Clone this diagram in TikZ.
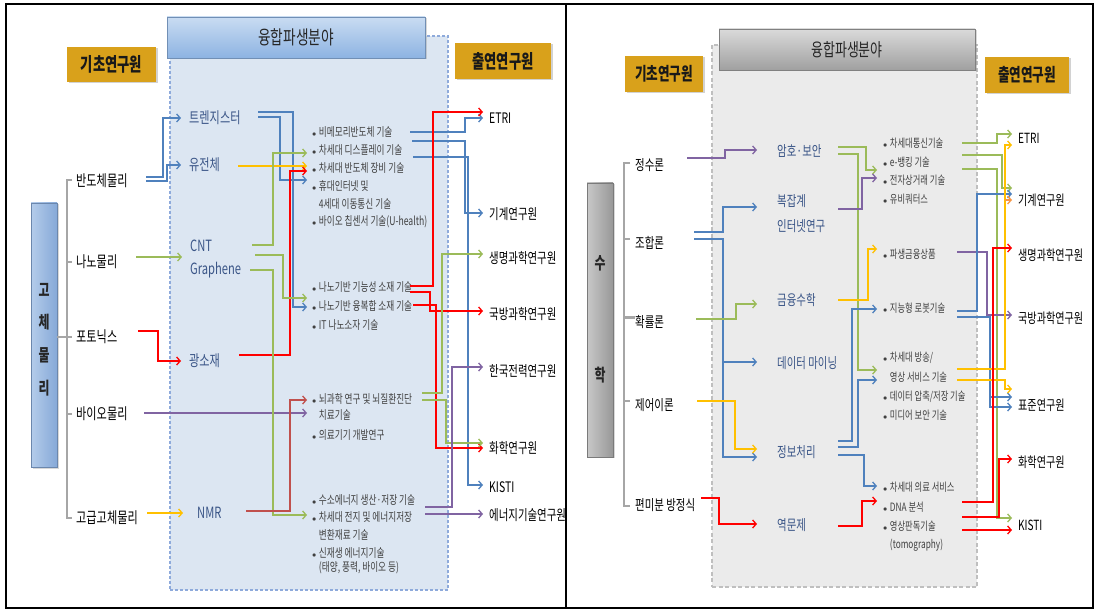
\documentclass[tikz,border=0pt]{standalone}
\usepackage{fontspec}
\setmainfont{Noto Sans CJK KR}[FakeStretch=0.72]
\newfontfamily\bfam{Noto Sans CJK KR}[FakeStretch=0.72]
\newfontfamily\tfam{Noto Sans CJK KR}[FakeStretch=0.7]
\usetikzlibrary{arrows.meta,shadows}
\definecolor{cb}{HTML}{4F81BD}
\definecolor{cg}{HTML}{9BBB59}
\definecolor{cy}{HTML}{FFC000}
\definecolor{cr}{HTML}{FF0000}
\definecolor{cbr}{HTML}{C0504D}
\definecolor{cp}{HTML}{8064A2}
\definecolor{co}{HTML}{F79646}
\definecolor{midtxt}{HTML}{3A5587}
\definecolor{btxt}{HTML}{404040}
\definecolor{gold}{HTML}{D9A11B}
\definecolor{regL}{HTML}{DCE6F2}
\definecolor{regLb}{HTML}{8EAADB}
\definecolor{regR}{HTML}{EBEBEB}
\definecolor{regRb}{HTML}{BFBFBF}
\definecolor{brk}{HTML}{A6A6A6}
\definecolor{hLt}{HTML}{C9DCF2}
\definecolor{hLb}{HTML}{8DB3E2}
\definecolor{hRt}{HTML}{DADADA}
\definecolor{hRb}{HTML}{A0A0A0}
\definecolor{barLa}{HTML}{B4CCEA}
\definecolor{barLb}{HTML}{86A9D8}
\definecolor{barRa}{HTML}{C8C8C8}
\definecolor{barRb}{HTML}{989898}
\newcommand\bul{$\scriptstyle\bullet$\hspace{2.5pt}}
\newcommand\nobul{\hphantom{$\scriptstyle\bullet$\hspace{2.5pt}}}
\begin{document}
\begin{tikzpicture}[x=1pt,y=-1pt,
  conn/.style={line width=1.3pt,-{Straight Barb[length=3.5pt,width=8pt]}},
  lab/.style={anchor=west,inner xsep=0pt,inner ysep=1pt,font=\fontsize{15.5}{17}\selectfont},
  labr/.style={lab,font=\fontsize{14.5}{16}\selectfont},
  midl/.style={anchor=west,inner xsep=8pt,inner ysep=1pt,text=midtxt,font=\fontsize{15.5}{17}\selectfont},
  midr/.style={anchor=west,inner xsep=20pt,inner ysep=1pt,text=midtxt,font=\fontsize{14.5}{16}\selectfont},
  bl/.style={anchor=west,inner xsep=5pt,inner ysep=0.5pt,text=btxt,font=\bfam\fontsize{12}{13}\selectfont},
  br/.style={bl,inner xsep=6pt,font=\bfam\fontsize{11.5}{12}\selectfont},
  inst/.style={anchor=west,inner xsep=6pt,inner ysep=1pt,font=\fontsize{14.5}{16}\selectfont},
  instr/.style={inst,font=\fontsize{14}{15}\selectfont},
  goldbox/.style={fill=gold,draw=none,inner sep=0pt,drop shadow={shadow xshift=1.5pt,shadow yshift=-1.5pt,opacity=0.35},
     font=\tfam\bfseries\fontsize{19}{21}\selectfont,text=black!90},
  bartxt/.style={inner sep=0pt,font=\tfam\bfseries\fontsize{17}{17}\selectfont,text=black!85},
  brkline/.style={draw=brk,line width=2pt}
]
\useasboundingbox (0,0) rectangle (1096,612);
\fill[white] (0,0) rectangle (1096,612);

% ---------- frames ----------
\draw[line width=1.2pt] (6,4) rectangle (1093,608);
\draw[line width=1.2pt] (566,4) -- (566,608);

% ================= LEFT PANEL =================
\node[fill=regL,draw=regLb,line width=2.5pt,dash pattern=on 3pt off 2pt,minimum width=278pt,minimum height=554pt,inner sep=0pt] (rgL) at (309,313) {};
\node[top color=hLt,bottom color=hLb,draw=hLb!80!black,line width=0.4pt,minimum width=258pt,minimum height=41pt,inner sep=0pt,
      drop shadow={shadow xshift=1.5pt,shadow yshift=-1.5pt,opacity=0.3},font=\fontsize{19}{20}\selectfont,text=black!85] (hL) at (296,37.5) {융합파생분야};
\node[goldbox,minimum width=89pt,minimum height=35pt] (kcL) at (111.5,64.5) {기초연구원};
\node[goldbox,minimum width=96pt,minimum height=36pt] (ccL) at (503,61) {출연연구원};

\node[left color=barLa,right color=barLb,draw=barLb!80!black,line width=0.4pt,minimum width=26pt,minimum height=264pt,inner sep=0pt,
      drop shadow={shadow xshift=1.5pt,shadow yshift=-1.5pt,opacity=0.3}] (barL) at (44,335) {};
\node[bartxt] (bl1) at (44,290) {고};
\node[bartxt] (bl2) at (44,322) {체};
\node[bartxt] (bl3) at (44,355) {물};
\node[bartxt] (bl4) at (44,388) {리};

\draw[brkline] (72,180) -- (67,180) -- (67,518) -- (72,518);
\draw[brkline] (67,262) -- (72,262);
\draw[brkline] (67,414) -- (72,414);
\draw[brkline] (barL.east |- 0,337) -- (72,337);

\node[lab] (lbd) at (76,181) {반도체물리};
\node[lab] (lnn) at (76,262) {나노물리};
\node[lab] (lpt) at (76,337) {포토닉스};
\node[lab] (lbi) at (76,414) {바이오물리};
\node[lab] (lgg) at (76,518) {고급고체물리};

\node[midl] (tr) at (181,118) {트렌지스터};
\node[midl] (yj) at (181,165) {유전체};
\node[midl] (cnt) at (182,246) {CNT};
\node[midl] (gr) at (182,270) {Graphene};
\node[midl] (gs) at (181,361) {광소재};
\node[midl,inner xsep=14pt] (nmr) at (183,513) {NMR};

\node[bl] (a1) at (307,132) {\bul 비메모리반도체 기술};
\node[bl] (a2) at (307,150) {\bul 차세대 디스플레이 기술};
\node[bl] (a3) at (307,168) {\bul 차세대 반도체 장비 기술};
\node[bl] (a4) at (307,186) {\bul 휴대인터넷 및};
\node[bl] (a5) at (307,204) {\nobul 4세대 이동통신 기술};
\node[bl] (a6) at (307,222) {\bul 바이오 칩센서 기술(U-health)};
\node[bl] (b1) at (307,287) {\bul 나노기반 기능성 소재 기술};
\node[bl] (b2) at (307,306) {\bul 나노기반 융복합 소재 기술};
\node[bl] (b3) at (307,325) {\bul IT 나노소자 기술};
\node[bl] (c1) at (307,399) {\bul 뇌과학 연구 및 뇌질환진단};
\node[bl] (c2) at (307,415) {\nobul 치료기술};
\node[bl] (c3) at (307,435) {\bul 의료기기 개발연구};
\node[bl] (d1) at (307,500) {\bul 수소에너지 생산·저장 기술};
\node[bl] (d2) at (307,517) {\bul 차세대 전지 및 에너지저장};
\node[bl] (d3) at (307,535) {\nobul 변환재료 기술};
\node[bl] (d4) at (307,553) {\bul 신재생 에너지기술};
\node[bl] (d5) at (307,568) {\nobul (태양, 풍력, 바이오 등)};

\node[inst] (iE) at (483,118) {ETRI};
\node[inst] (iG) at (483,214) {기계연구원};
\node[inst] (iS) at (483,258) {생명과학연구원};
\node[inst] (iB) at (483,314) {국방과학연구원};
\node[inst] (iH) at (483,371) {한국전력연구원};
\node[inst] (iC) at (483,448) {화학연구원};
\node[inst] (iK) at (483,487) {KISTI};
\begin{scope}
\clip (0,0) rectangle (565,612);
\node[inst] (iN) at (483,515) {에너지기술연구원};
\end{scope}

% basic -> middle
\draw[conn,cb] (146,177) -| (163,118) -- (tr.west);
\draw[conn,cb] (146,181) -| (167,165) -- (yj.west);
\draw[conn,cg] (136,257) -- (cnt.west |- 0,257);
\draw[conn,cr] (138,331) -| (158,361) -- (gs.west);
\draw[conn,cp] (144,413) -- (c2.west |- 0,413);
\draw[conn,cy] (147,513) -- (nmr.west);

% middle -> bullets
\draw[conn,cb] (258,112) -| (293,307) -- (b2.west |- 0,307);
\draw[conn,cb] (258,117) -| (280,180) -- (a4.west |- 0,180);
\draw[conn,cy] (238,166) -- (a3.west |- 0,166);
\draw[conn,cr] (239,355) -| (290,171) -- (a3.west |- 0,171);
\draw[conn,cg] (252,245) -| (273,153) -- (a2.west |- 0,153);
\draw[conn,cg] (255,255) -| (283,298) -- (b1.west |- 0,298);
\draw[conn,cg] (250,270) -| (273,515) -- (d2.west |- 0,515);
\draw[conn,cbr] (246,511) -| (290,400) -- (c1.west |- 0,400);

% bullets -> institutes
\draw[conn,cb] (410,132) -| (465,118) -- (iE.west);
\draw[conn,cb] (412,141) -| (465,213) -- (iG.west |- 0,213);
\draw[conn,cb] (413,157) -| (468,485) -- (iK.west |- 0,485);
\draw[conn,cr] (410,286) -| (433,112) -- (iE.west |- 0,112);
\draw[conn,cr] (410,292) -| (430,311) -- (iB.west |- 0,311);
\draw[conn,cr] (413,305) -| (436,448) -- (iC.west);
\draw[conn,cg] (422,393) -| (442,254) -- (iS.west |- 0,254);
\draw[conn,cg] (422,400) -| (446,443) -- (iC.west |- 0,443);
\draw[conn,cp] (425,507) -| (452,367) -- (iH.west |- 0,367);
\draw[conn,cp] (425,514) -- (iN.west |- 0,514);

% ================= RIGHT PANEL =================
\node[fill=regR,draw=regRb,line width=2.5pt,dash pattern=on 4pt off 2.5pt,minimum width=265pt,minimum height=542pt,inner sep=0pt] (rgR) at (844.5,316) {};
\node[top color=hRt,bottom color=hRb,draw=hRb!80!black,line width=0.4pt,minimum width=256pt,minimum height=41pt,inner sep=0pt,
      drop shadow={shadow xshift=1.5pt,shadow yshift=-1.5pt,opacity=0.3},font=\fontsize{18}{19}\selectfont,text=black!85] (hR) at (847,49.5) {융합파생분야};
\node[goldbox,minimum width=78pt,minimum height=36pt,font=\tfam\bfseries\fontsize{18}{20}\selectfont] (kcR) at (664,74) {기초연구원};
\node[goldbox,minimum width=84pt,minimum height=36pt,font=\tfam\bfseries\fontsize{18}{20}\selectfont] (ccR) at (1027,75) {출연연구원};

\node[left color=barRa,right color=barRb,draw=barRb!80!black,line width=0.4pt,minimum width=26pt,minimum height=274pt,inner sep=0pt,
      drop shadow={shadow xshift=1.5pt,shadow yshift=-1.5pt,opacity=0.3}] (barR) at (600,320) {};
\node[bartxt] (br1) at (600,263) {수};
\node[bartxt] (br2) at (600,375) {학};

\draw[brkline] (630,163) -- (624,163) -- (624,506) -- (630,506);
\draw[brkline] (624,239) -- (630,239);
\draw[brkline,line width=3pt] (624,318) -- (635,318);
\draw[brkline] (624,401) -- (630,401);

\node[labr] (rjs) at (635,165) {정수론};
\node[labr] (rjh) at (635,243) {조합론};
\node[labr] (rhr) at (635,322) {확률론};
\node[labr] (rje) at (635,405) {제어이론};
\node[labr] (rpm) at (635,505) {편미분 방정식};

\node[midr] (ah) at (757,151) {암호·보안};
\node[midr] (bj) at (757,201) {복잡계};
\node[midr] (it) at (757,226) {인터넷연구};
\node[midr] (gy) at (757,300) {금융수학};
\node[midr] (dm) at (757,363) {데이터 마이닝};
\node[midr] (jb) at (757,452) {정보처리};
\node[midr] (ym) at (757,525) {역문제};

\node[br] (e1) at (877,143) {\bul 차세대통신기술};
\node[br] (e2) at (877,162) {\bul e-뱅킹 기술};
\node[br] (e3) at (877,180) {\bul 전자상거래 기술};
\node[br] (e4) at (877,199) {\bul 유비쿼터스};
\node[br] (f1) at (877,254) {\bul 파생금융상품};
\node[br] (g1) at (877,308) {\bul 지능형 로봇기술};
\node[br] (h1) at (877,358) {\bul 차세대 방송/};
\node[br] (h2) at (877,377) {\nobul 영상 서비스 기술};
\node[br] (h3) at (877,397) {\bul 데이터 압축/저장 기술};
\node[br] (h4) at (877,415) {\bul 미디어 보안 기술};
\node[br] (k1) at (877,487) {\bul 차세대 의료 서비스};
\node[br] (k2) at (877,507) {\bul DNA 분석};
\node[br] (k3) at (877,526) {\bul 영상판독기술};
\node[br] (k4) at (877,545) {\nobul (tomography)};

\node[instr] (jE) at (1012,138) {ETRI};
\node[instr] (jG) at (1012,200) {기계연구원};
\node[instr] (jS) at (1012,255) {생명과학연구원};
\node[instr] (jB) at (1012,318) {국방과학연구원};
\node[instr] (jP) at (1012,405) {표준연구원};
\node[instr] (jC) at (1012,462) {화학연구원};
\node[instr] (jK) at (1012,525) {KISTI};

% basic -> middle
\draw[conn,cp] (687,158) -| (725,150) -- (ah.west |- 0,150);
\draw[conn,cb] (694,232) -| (723,207) -- (bj.west |- 0,207);
\draw[conn,cb] (694,239) -| (723,457) -- (jb.west |- 0,457);
\draw[conn,cb] (723,362) -- (dm.west |- 0,362);
\draw[conn,cg] (696,319) -| (736,304) -- (gy.west |- 0,304);
\draw[conn,cy] (697,401) -| (735,449) -- (jb.west |- 0,449);
\draw[conn,cr] (701,498) -| (719,524) -- (ym.west |- 0,524);

% middle -> bullets
\draw[conn,cg] (838,147) -| (866,170) -- (e3.west |- 0,170);
\draw[conn,cg] (838,154) -| (858,370) -- (h2.west |- 0,370);
\draw[conn,cp] (838,209) -| (862,178) -- (e3.west |- 0,178);
\draw[conn,cy] (838,300) -| (868,249) -- (f1.west |- 0,249);
\draw[conn,cb] (838,441) -| (852,309) -- (g1.west |- 0,309);
\draw[conn,cb] (838,447) -| (858,380) -- (h2.west |- 0,380);
\draw[conn,cb] (838,455) -| (864,486) -- (k1.west |- 0,486);
\draw[conn,cr] (838,526) -| (862,501) -- (k2.west |- 0,501);

% bullets -> institutes
\draw[conn,cg] (962,143) -| (997,134) -- (jE.west |- 0,134);
\draw[conn,cg] (962,155) -| (1002,188) -- (jG.west |- 0,188);
\draw[conn,cg] (962,169) -| (997,518) -- (jK.west |- 0,518);
\draw[conn,cp] (957,252) -| (987,315) -- (jB.west |- 0,315);
\draw[conn,cb] (957,311) -| (977,194) -- (jG.west |- 0,194);
\draw[conn,cb] (957,317) -| (990,407) -- (jP.west |- 0,407);
\draw[conn,cb] (990,397) -- (jP.west |- 0,397);
\draw[conn,cy] (957,369) -| (1005,145) -- (jE.west |- 0,145);
\draw[conn,co] (1005,200) -- (jG.west |- 0,200);
\draw[conn,cy] (957,380) -| (1005,389) -- (jP.west |- 0,389);
\draw[conn,cr] (962,502) -| (993,248) -- (jS.west |- 0,248);
\draw[conn,cr] (962,517) -| (999,459) -- (jC.west |- 0,459);
\draw[conn,cr] (962,530) -- (jK.west |- 0,530);
\end{tikzpicture}
\end{document}
